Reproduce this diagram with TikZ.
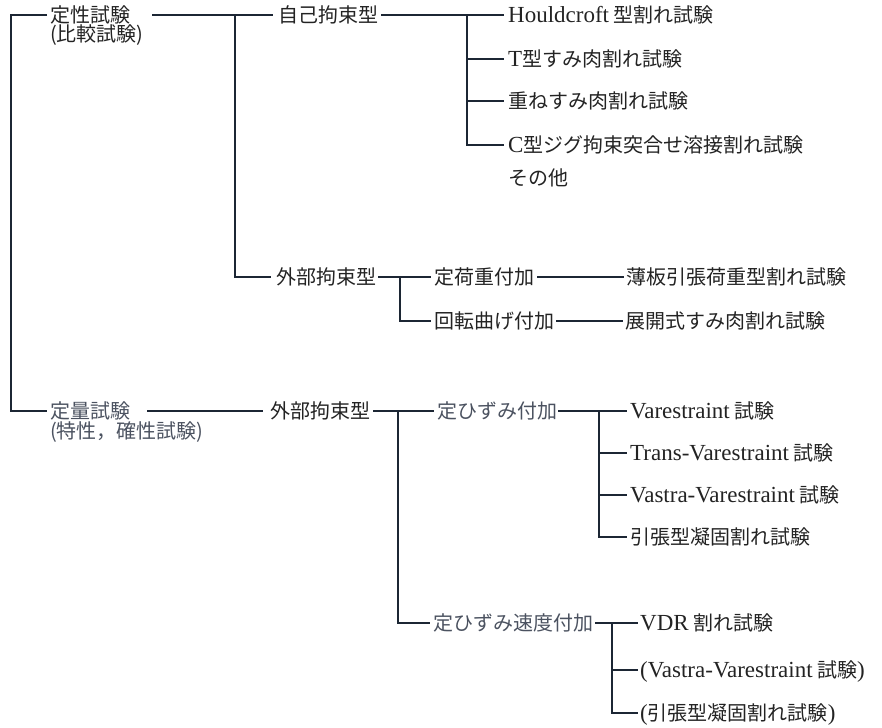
\documentclass[tikz,border=0pt]{standalone}
\usepackage{fontspec}
\setmainfont{Liberation Serif}
\newfontfamily\jp{Noto Sans CJK JP}
\newfontfamily\lat{Liberation Serif}
\newcommand\la[1]{{\lat\fontsize{23}{23}\selectfont #1}}
\definecolor{lc}{RGB}{28,38,52}
\definecolor{tc}{RGB}{35,35,35}
\definecolor{gc}{RGB}{75,82,96}
\begin{document}
\begin{tikzpicture}[x=1pt,y=-1pt,
  ln/.style={draw=lc,line width=2.1pt},
  lbl/.style={anchor=west,inner sep=0pt,text height=16pt,text depth=1pt,
    font=\jp\fontsize{20}{20}\selectfont,text=tc},
  glbl/.style={lbl,text=gc}]
\useasboundingbox (0,0) rectangle (882,727);

% level 1
\node[lbl] (q1) at (50,15) {定性試験};
\node[lbl] (q1s) at (50,34) {(比較試験)};
\node[glbl] (q2) at (50,411) {定量試験};
\node[glbl] (q2s) at (50,431) {(特性，確性試験)};
\coordinate (trunk) at (11,0);
\draw[ln] ([xshift=-3pt]q1.west) -| (trunk |- q2.west) -- ([xshift=-3pt]q2.west);

% level 2 (top)
\node[lbl] (s1) at (278,15) {自己拘束型};
\node[lbl] (e1) at (276,277) {外部拘束型};
\coordinate (b1) at (235,0);
\draw[ln] ([xshift=22pt]q1.east) -- ([xshift=-5pt]s1.west);
\draw[ln] (b1 |- q1.east) |- ([xshift=-5pt]e1.west);

% self-restraint children
\node[lbl] (h1) at (508,15) {\la{Houldcroft} 型割れ試験};
\node[lbl] (h2) at (508,59) {\la{T}型すみ肉割れ試験};
\node[lbl] (h3) at (508,101) {重ねすみ肉割れ試験};
\node[lbl] (h4) at (508,145) {\la{C}型ジグ拘束突合せ溶接割れ試験};
\node[lbl] (h5) at (508,178) {その他};
\coordinate (b2) at (467,0);
\draw[ln] ([xshift=3pt]s1.east) -- ([xshift=-4pt]h1.west);
\draw[ln] (b2 |- h1.west) |- ([xshift=-4pt]h4.west);
\draw[ln] (b2 |- h2.west) -- ([xshift=-4pt]h2.west);
\draw[ln] (b2 |- h3.west) -- ([xshift=-4pt]h3.west);

% external restraint (top) children
\node[lbl] (c1) at (434,277) {定荷重付加};
\node[lbl] (c2) at (434,321) {回転曲げ付加};
\node[lbl] (c1r) at (626,277) {薄板引張荷重型割れ試験};
\node[lbl] (c2r) at (625,321) {展開式すみ肉割れ試験};
\coordinate (b3) at (400,0);
\draw[ln] ([xshift=2pt]e1.east) -- ([xshift=-3pt]c1.west);
\draw[ln] (b3 |- e1.east) |- ([xshift=-3pt]c2.west);
\draw[ln] ([xshift=3pt]c1.east) -- ([xshift=-2pt]c1r.west);
\draw[ln] ([xshift=2pt]c2.east) -- ([xshift=-2pt]c2r.west);

% level 2 (bottom)
\node[lbl] (e2) at (270,411) {外部拘束型};
\draw[ln] ([xshift=17pt]q2.east) -- ([xshift=-7pt]e2.west);
\node[glbl] (d1) at (437,411) {定ひずみ付加};
\node[glbl] (d2) at (433,623) {定ひずみ速度付加};
\coordinate (b4) at (398,0);
\draw[ln] ([xshift=3pt]e2.east) -- ([xshift=-3pt]d1.west);
\draw[ln] (b4 |- e2.east) |- ([xshift=-3pt]d2.west);

% constant strain children
\node[lbl] (v1) at (630,411) {\la{Varestraint} 試験};
\node[lbl] (v2) at (630,453) {\la{Trans-Varestraint} 試験};
\node[lbl] (v3) at (630,495) {\la{Vastra-Varestraint} 試験};
\node[lbl] (v4) at (630,537) {引張型凝固割れ試験};
\coordinate (b5) at (599,0);
\draw[ln] ([xshift=1pt]d1.east) -- ([xshift=-3pt]v1.west);
\draw[ln] (b5 |- v1.west) |- ([xshift=-3pt]v4.west);
\draw[ln] (b5 |- v2.west) -- ([xshift=-3pt]v2.west);
\draw[ln] (b5 |- v3.west) -- ([xshift=-3pt]v3.west);

% constant strain rate children
\node[lbl] (w1) at (640,623) {\la{VDR} 割れ試験};
\node[lbl] (w2) at (640,670) {\la{(Vastra-Varestraint} 試験\la{)}};
\node[lbl] (w3) at (640,713) {\la{(}引張型凝固割れ試験\la{)}};
\coordinate (b6) at (612,0);
\draw[ln] ([xshift=2pt]d2.east) -- ([xshift=-2pt]w1.west);
\draw[ln] (b6 |- w1.west) |- ([xshift=-2pt]w3.west);
\draw[ln] (b6 |- w2.west) -- ([xshift=-2pt]w2.west);
\end{tikzpicture}
\end{document}
